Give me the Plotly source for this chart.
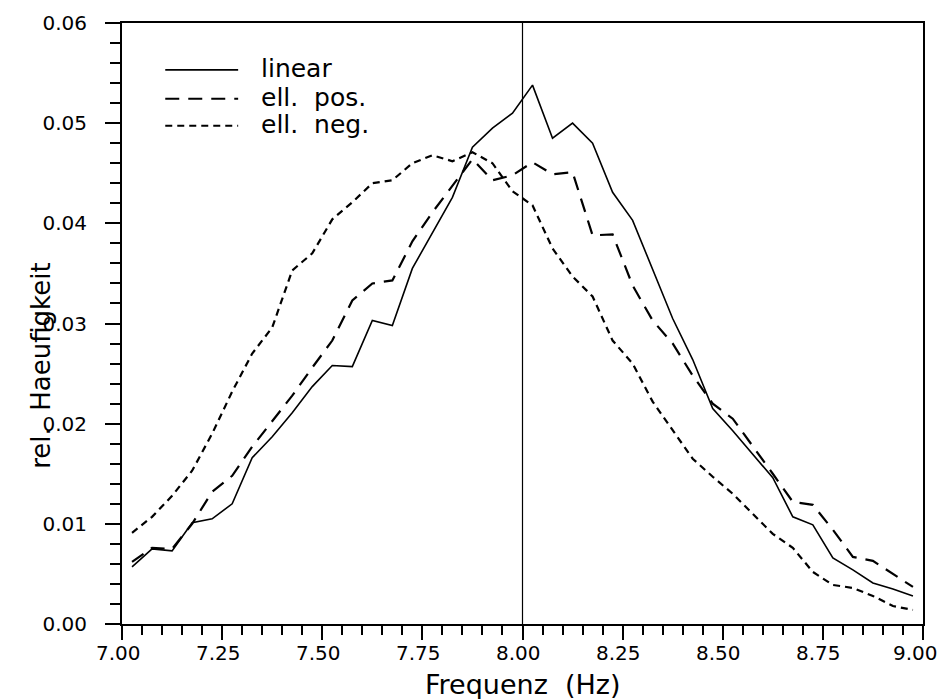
import plotly.graph_objects as go

# ---------------- data ----------------
freq = [7.025, 7.075, 7.125, 7.175, 7.225, 7.275, 7.325, 7.375, 7.425, 7.475,
        7.525, 7.575, 7.625, 7.675, 7.725, 7.775, 7.825, 7.875, 7.925, 7.975,
        8.025, 8.075, 8.125, 8.175, 8.225, 8.275, 8.325, 8.375, 8.425, 8.475,
        8.525, 8.575, 8.625, 8.675, 8.725, 8.775, 8.825, 8.875, 8.925, 8.975]

linear = [0.0057, 0.0075, 0.0073, 0.0101, 0.0105, 0.0120, 0.0166, 0.0187, 0.0211, 0.0237,
          0.0258, 0.0257, 0.0303, 0.0298, 0.0355, 0.0390, 0.0426, 0.0476, 0.0495, 0.0510,
          0.0538, 0.0485, 0.0500, 0.0480, 0.0431, 0.0403, 0.0353, 0.0305, 0.0264, 0.0215,
          0.0193, 0.0170, 0.0146, 0.0107, 0.0099, 0.0066, 0.0054, 0.0041, 0.0035, 0.0028]

ell_pos = [0.0062, 0.0076, 0.0075, 0.0100, 0.0132, 0.0148, 0.0177, 0.0203, 0.0228, 0.0256,
           0.0283, 0.0323, 0.0340, 0.0343, 0.0382, 0.0411, 0.0437, 0.0464, 0.0443, 0.0448,
           0.0461, 0.0449, 0.0451, 0.0388, 0.0389, 0.0338, 0.0303, 0.0280, 0.0248, 0.0220,
           0.0205, 0.0178, 0.0150, 0.0122, 0.0119, 0.0094, 0.0067, 0.0063, 0.0050, 0.0037]

ell_neg = [0.0091, 0.0107, 0.0128, 0.0153, 0.0190, 0.0232, 0.0270, 0.0296, 0.0353, 0.0370,
           0.0404, 0.0421, 0.0440, 0.0443, 0.0460, 0.0468, 0.0462, 0.0471, 0.0460, 0.0432,
           0.0418, 0.0375, 0.0347, 0.0327, 0.0283, 0.0260, 0.0222, 0.0193, 0.0165, 0.0147,
           0.0130, 0.0110, 0.0090, 0.0076, 0.0052, 0.0039, 0.0036, 0.0028, 0.0018, 0.0014]

series_names = ["linear", "ell.  pos.", "ell.  neg."]

x_ticks = [7.00, 7.25, 7.50, 7.75, 8.00, 8.25, 8.50, 8.75, 9.00]
x_tick_labels = ["7.00", "7.25", "7.50", "7.75", "8.00", "8.25", "8.50", "8.75", "9.00"]
y_ticks = [0.00, 0.01, 0.02, 0.03, 0.04, 0.05, 0.06]
y_tick_labels = ["0.00", "0.01", "0.02", "0.03", "0.04", "0.05", "0.06"]

x_title = "Frequenz  (Hz)"
y_title = "rel.  Haeufigkeit"
marker_freq = 8.00

# ---------------- styling ----------------
FONT = "DejaVu Sans"
styles = [
    dict(color="black", width=1.6, dash="solid"),
    dict(color="black", width=2.2, dash="14px,9px"),
    dict(color="black", width=2.2, dash="7px,5px"),
]

fig = go.Figure()
for name, vals, st in zip(series_names, [linear, ell_pos, ell_neg], styles):
    fig.add_trace(go.Scatter(x=freq, y=vals, mode="lines", name=name,
                             line=st, showlegend=False))

# vertical reference line at 8.00 Hz
fig.add_shape(type="line", xref="x", yref="y", x0=marker_freq, x1=marker_freq,
              y0=y_ticks[0], y1=y_ticks[-1], line=dict(color="black", width=1.2))

# x tick labels placed through the x scale (closer to the axis than plotly's default)
for i, (v, lab) in enumerate(zip(x_ticks, x_tick_labels)):
    shift = -7 if i == len(x_ticks) - 1 else -4
    fig.add_annotation(xref="x", yref="paper", x=v, y=-0.049, xshift=shift,
                       xanchor="center", yanchor="middle", showarrow=False,
                       text=lab, font=dict(family=FONT, size=20, color="black"))

# hand-made legend (long sample lines like the original)
leg_rows = [0.922, 0.874, 0.829]
for name, st, yy in zip(series_names, styles, leg_rows):
    fig.add_shape(type="line", xref="paper", yref="paper", x0=0.054, x1=0.145,
                  y0=yy, y1=yy, line=st)
    fig.add_annotation(xref="paper", yref="paper", x=0.171, y=yy + 0.002,
                       xanchor="left", yanchor="middle", showarrow=False,
                       text=name, font=dict(family=FONT, size=25, color="black"))

# axis titles
fig.add_annotation(xref="paper", yref="paper", x=0.5, y=-0.1,
                   xanchor="center", yanchor="middle", showarrow=False,
                   text=x_title, font=dict(family=FONT, size=27, color="black"))
fig.add_annotation(xref="paper", yref="paper", x=-0.102, y=0.43,
                   xanchor="center", yanchor="middle", showarrow=False, textangle=-90,
                   text=y_title, font=dict(family=FONT, size=26, color="black"))

fig.update_layout(
    width=944, height=699,
    margin=dict(l=122, r=21, t=23, b=75, pad=0),
    paper_bgcolor="white", plot_bgcolor="white",
    font=dict(family=FONT, size=20, color="black"),
    showlegend=False,
)
fig.update_xaxes(
    range=[x_ticks[0] - 1e-4, x_ticks[-1] + 1e-4], tickmode="array",
    tickvals=x_ticks, ticktext=x_tick_labels, showticklabels=False,
    ticks="outside", ticklen=14, tickwidth=2, tickcolor="black",
    minor=dict(dtick=0.05, tick0=7.0, ticks="outside", ticklen=9, tickwidth=2, tickcolor="black"),
    showline=True, linecolor="black", linewidth=2, mirror=True,
    showgrid=False, zeroline=False,
)
fig.update_yaxes(
    range=[y_ticks[0], y_ticks[-1] + 1e-7], tickmode="array", tickvals=y_ticks, ticktext=y_tick_labels,
    ticks="outside", ticklen=15, tickwidth=2, tickcolor="black",
    minor=dict(dtick=0.002, ticks="outside", ticklen=10, tickwidth=2, tickcolor="black"),
    showline=True, linecolor="black", linewidth=2, mirror=True,
    showgrid=False, zeroline=False, ticklabelstandoff=14,
    tickfont=dict(family=FONT, size=20, color="black"),
)

fig.write_html("out.html")
